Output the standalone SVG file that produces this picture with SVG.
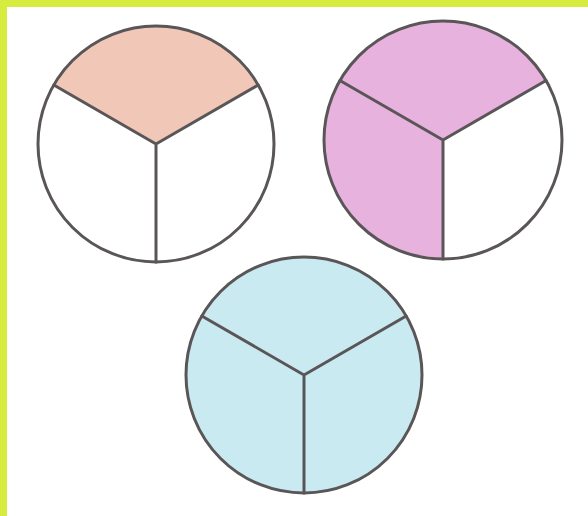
<svg xmlns="http://www.w3.org/2000/svg" width="588" height="516" viewBox="0 0 588 516">
<style>
.edge{fill:none;stroke:#5a5658;stroke-width:3;stroke-linecap:round;stroke-linejoin:round}
.ring{fill:none;stroke:#5a5658;stroke-width:3}
</style>
<rect width="588" height="516" fill="#ffffff"/>
<rect x="0" y="0" width="588" height="7" fill="#d6ec3e"/>
<rect x="0" y="0" width="7" height="516" fill="#d6ec3e"/>
<g id="circle1">
<circle cx="156" cy="144" r="118" fill="#ffffff"/>
<path d="M156 144 L53.8 85 A118 118 0 0 1 258.2 85 Z" fill="#f1c8b7"/>
<circle class="ring" cx="156" cy="144" r="118"/>
</g>
<g id="circle2">
<circle cx="443" cy="140" r="119" fill="#ffffff"/>
<path d="M443 140 L443 259 A119 119 0 1 1 546.1 80.5 Z" fill="#e8b2df"/>
<circle class="ring" cx="443" cy="140" r="119"/>
</g>
<g id="circle3">
<circle cx="304" cy="375" r="118" fill="#c9eaf1"/>
<circle class="ring" cx="304" cy="375" r="118"/>
</g>
<g id="connectors">
<path class="edge" d="M53.8 85 L156 144 L258.2 85 M156 144 L156 262"/>
<path class="edge" d="M339.9 80.5 L443 140 L546.1 80.5 M443 140 L443 259"/>
<path class="edge" d="M201.8 316 L304 375 L406.2 316 M304 375 L304 493"/>
</g>
</svg>
